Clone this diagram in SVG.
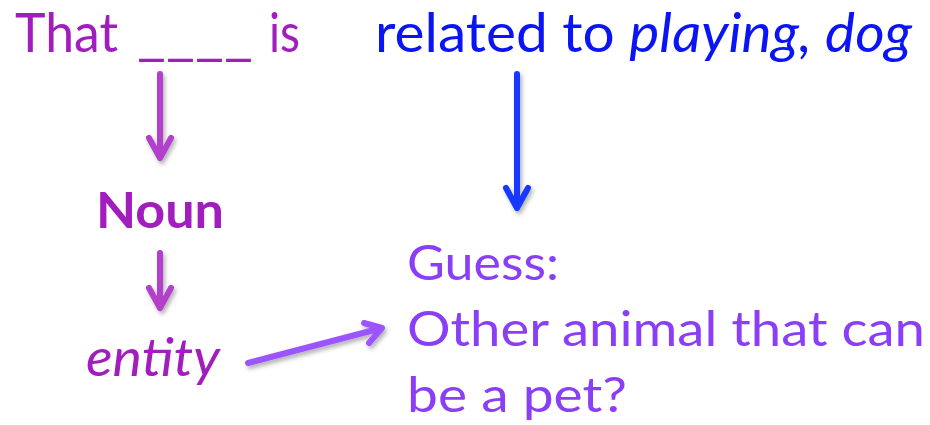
<svg xmlns="http://www.w3.org/2000/svg" width="930" height="425" viewBox="0 0 930 425">
<defs>
<style>
text{font-family:Lato,"Open Sans","Liberation Sans",sans-serif}
.pur{fill:#A11DBD}
.blue{fill:#0A14F5}
.vio{fill:#8A3FF7}
.arr{fill:none;stroke-width:6;stroke-linecap:round;stroke-linejoin:round}
</style>
<filter id="sh" x="-50%" y="-50%" width="200%" height="200%">
<feDropShadow dx="2" dy="3" stdDeviation="2" flood-color="#000" flood-opacity="0.3"/>
</filter>
</defs>
<rect width="930" height="425" fill="#fff"/>
<g id="n-that" class="pur" font-size="54">
<text x="15" y="52" textLength="103" lengthAdjust="spacingAndGlyphs">That</text>
<text x="137" y="54" textLength="116" lengthAdjust="spacingAndGlyphs">____</text>
<text x="269" y="52" textLength="31" lengthAdjust="spacingAndGlyphs">is</text>
</g>
<g id="n-related"><text class="blue" x="375" y="52" font-size="54" textLength="537" lengthAdjust="spacingAndGlyphs">related to <tspan font-style="italic">playing, dog</tspan></text></g>
<g id="n-noun"><text class="pur" x="96" y="228" font-size="50" font-weight="bold" textLength="128" lengthAdjust="spacingAndGlyphs">Noun</text></g>
<g id="n-entity"><text class="pur" x="86" y="376" font-size="52" font-style="italic" textLength="134" lengthAdjust="spacingAndGlyphs">entity</text></g>
<g id="n-guess" class="vio" font-size="49">
<text x="407" y="280" textLength="152" lengthAdjust="spacingAndGlyphs">Guess:</text>
<text x="407" y="346" textLength="518" lengthAdjust="spacingAndGlyphs">Other animal that can</text>
<text x="407" y="412" textLength="220" lengthAdjust="spacingAndGlyphs">be a pet?</text>
</g>
<g id="connectors" filter="url(#sh)">
<g class="arr" stroke="#B33FCB">
<path d="M160 74V158M149 138L160 158L171 138"/>
<path d="M160 253V308M149 288L160 308L171 288"/>
</g>
<path class="arr" stroke="#1438FF" d="M517 74V208M506 188L517 208L528 188"/>
<path class="arr" stroke="#9B55FF" d="M248 363L382 328M364 323L382 328L369 343"/>
</g>
</svg>
